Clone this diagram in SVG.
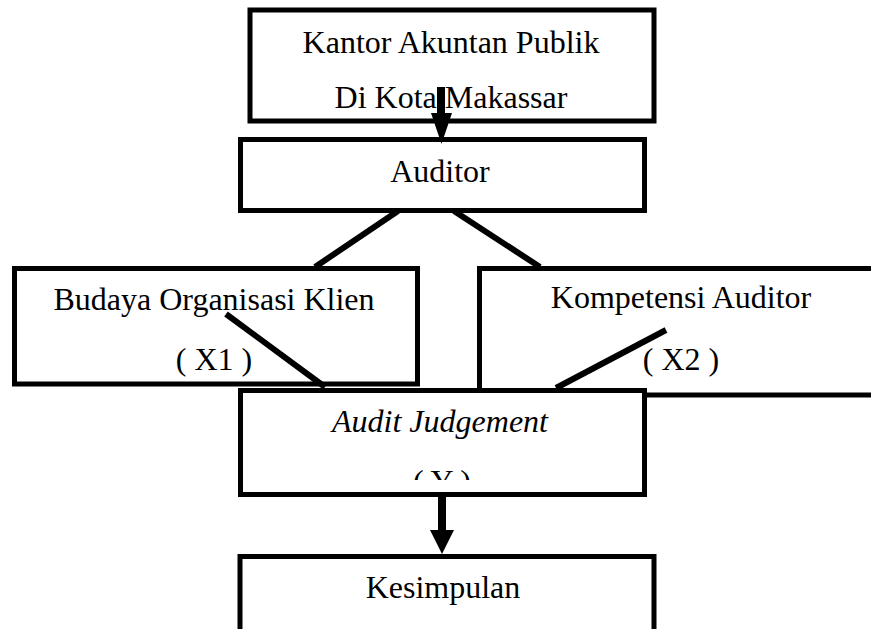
<svg xmlns="http://www.w3.org/2000/svg" width="871" height="629" viewBox="0 0 871 629">
<style>
  .box { fill: #ffffff; stroke: #000000; stroke-width: 5; }
  .lbl { font-family: "Liberation Serif", "Times New Roman", serif; font-size: 32px; fill: #000000; text-anchor: middle; }
  .it { font-style: italic; }
  .conn { stroke: #000000; stroke-width: 6; fill: none; stroke-linecap: butt; }
  .shaft { stroke: #000000; stroke-width: 8; fill: none; }
  .head { fill: #000000; stroke: none; }
</style>
<defs>
  <clipPath id="clipY">
    <rect x="240" y="390" width="404" height="90"/>
  </clipPath>
</defs>
<rect x="0" y="0" width="871" height="629" fill="#ffffff"/>

<g id="node-kantor">
  <rect class="box" x="250" y="10" width="404" height="111"/>
  <text class="lbl" x="451" y="53">Kantor Akuntan Publik</text>
  <text class="lbl" x="451" y="108">Di Kota Makassar</text>
</g>

<g id="node-auditor">
  <rect class="box" x="240.5" y="139.5" width="404" height="71"/>
  <text class="lbl" x="440" y="182">Auditor</text>
</g>

<g id="node-budaya">
  <rect class="box" x="14.5" y="268.5" width="403" height="115.5"/>
  <text class="lbl" x="214" y="310">Budaya Organisasi Klien</text>
  <text class="lbl" x="214" y="370">( X1 )</text>
</g>

<g id="node-kompetensi">
  <rect class="box" x="479.5" y="268.5" width="410" height="126.5"/>
  <text class="lbl" x="681" y="308">Kompetensi Auditor</text>
  <text class="lbl" x="681" y="370">( X2 )</text>
</g>

<g id="node-audit-judgement">
  <rect class="box" x="240.5" y="390.5" width="404" height="104"/>
  <text class="lbl it" x="440" y="432">Audit Judgement</text>
  <text class="lbl" x="442" y="492" clip-path="url(#clipY)">( Y )</text>
</g>

<g id="node-kesimpulan">
  <rect class="box" x="240" y="556.5" width="414" height="110"/>
  <text class="lbl" x="443" y="598">Kesimpulan</text>
</g>

<g id="connectors">
  <line class="shaft" x1="441" y1="87" x2="441" y2="114"/>
  <polygon class="head" points="431,113 452,113 441.5,144"/>
  <line class="conn" x1="398" y1="211" x2="315" y2="267"/>
  <line class="conn" x1="454" y1="211" x2="540" y2="267"/>
  <line class="conn" x1="226" y1="314" x2="325" y2="387"/>
  <line class="conn" x1="666" y1="330" x2="556" y2="388"/>
  <line class="shaft" x1="442" y1="496" x2="442" y2="531"/>
  <polygon class="head" points="430,530 454,530 442,554"/>
</g>
</svg>
